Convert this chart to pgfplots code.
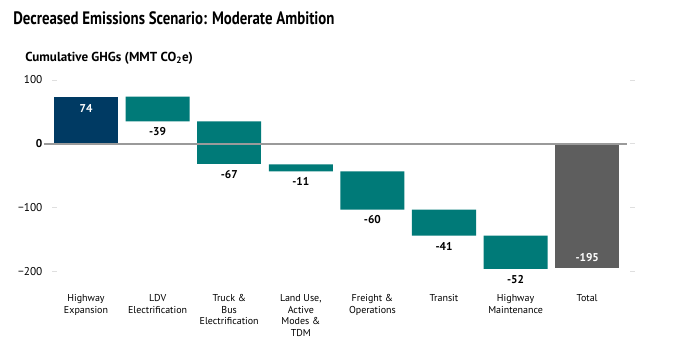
\documentclass[border=0pt]{standalone}
\usepackage{fontspec}
\setmainfont{PT Sans}
\usepackage{pgfplots}
\usepackage{pgfplotstable}
\usepackage{graphicx}
\pgfplotsset{compat=1.18}
\definecolor{navy}{HTML}{003A63}
\definecolor{tealc}{HTML}{007A78}
\definecolor{grayc}{HTML}{5E5E5E}
\definecolor{zline}{HTML}{9A9A9A}
% low..high of each bar, split so that positive and negative parts stack separately
\pgfplotstableread{
x base hwy tealA tealB tot
0 0 74 0 0 0
1 35 0 39 0 0
2 0 0 35 -32 0
3 -32 0 -11 0 0
4 -43 0 -60 0 0
5 -103 0 -41 0 0
6 -144 0 -52 0 0
7 0 0 0 0 -195
}\wf
\pgfplotstableread{
x y label
1 35 -39
2 -32 -67
3 -43 -11
4 -103 -60
5 -144 -41
6 -196 -52
}\below
\pgfplotstableread{
x y label
0 74 74
}\intop
\pgfplotstableread{
x y label
7 -195 -195
}\inbot
\begin{document}
\begin{tikzpicture}
\useasboundingbox (0,0) rectangle (509.25pt,267pt);
\pgfplotsset{common/.style={
  scale only axis, width=437.25pt, height=143.625pt,
  at={(33pt,63.375pt)}, anchor=south west,
  xmin=-0.587, xmax=7.556, ymin=-200, ymax=100,
  axis line style={draw=none},
  clip=false}}
\begin{axis}[common,
  ybar stacked, bar width=0.894,
  xtick={0,...,7}, xtick style={draw=none},
  xticklabels={{Highway\\Expansion},{LDV\\Electrification},{Truck \&\\Bus\\Electrification},{Land Use,\\Active\\Modes \&\\TDM},{Freight \&\\Operations},{Transit},{Highway\\Maintenance},{Total}},
  xticklabel style={align=center, font=\fontsize{7.5}{8.6}\selectfont, anchor=north, yshift=-14pt},
  ytick={-200,-100,0,100},
  yticklabels={−200,−100,\textbf{0},100},
  ytick style={draw=gray!25, line width=0.6pt, xshift=6pt},
  major tick length=3.75pt, tick align=inside,
  yticklabel style={font=\fontsize{8.5}{10}\selectfont, anchor=east, inner sep=0pt, xshift=-1pt},
]
\addplot[draw=none, fill=none] table[x=x,y=base]{\wf};
\addplot[draw=none, fill=navy] table[x=x,y=hwy]{\wf};
\addplot[draw=none, fill=tealc] table[x=x,y=tealA]{\wf};
\addplot[draw=none, fill=tealc] table[x=x,y=tealB]{\wf};
\addplot[draw=none, fill=grayc] table[x=x,y=tot]{\wf};
\end{axis}
\begin{axis}[common, xtick=\empty, ytick=\empty]
\addplot[zline, line width=1.5pt, mark=none] coordinates {(-0.587,0) (7.556,0)};
\addplot[draw=none, mark=none, nodes near coords, point meta=explicit symbolic,
  nodes near coords style={anchor=north, inner sep=0pt, yshift=-4.5pt, font=\fontsize{8.5}{10}\selectfont\bfseries}]
  table[x=x,y=y,meta=label]{\below};
\addplot[draw=none, mark=none, nodes near coords, point meta=explicit symbolic,
  nodes near coords style={anchor=north, inner sep=0pt, yshift=-6pt, white, font=\fontsize{8.5}{10}\selectfont\bfseries}]
  table[x=x,y=y,meta=label]{\intop};
\addplot[draw=none, mark=none, nodes near coords, point meta=explicit symbolic,
  nodes near coords style={anchor=south, inner sep=0pt, yshift=5pt, white, font=\fontsize{8.5}{10}\selectfont\bfseries}]
  table[x=x,y=y,meta=label]{\inbot};
\end{axis}
\node[anchor=west, inner sep=0pt, font=\fontsize{13.5}{15}\selectfont\bfseries] at (9.75pt,253.5pt) {\scalebox{0.825}[1]{Decreased Emissions Scenario: Moderate Ambition}};
\node[anchor=west, inner sep=0pt, font=\fontsize{9.8}{11}\selectfont\bfseries] at (18.75pt,223.5pt) {Cumulative GHGs (MMT CO\textsubscript{2}e)};
\end{tikzpicture}
\end{document}
